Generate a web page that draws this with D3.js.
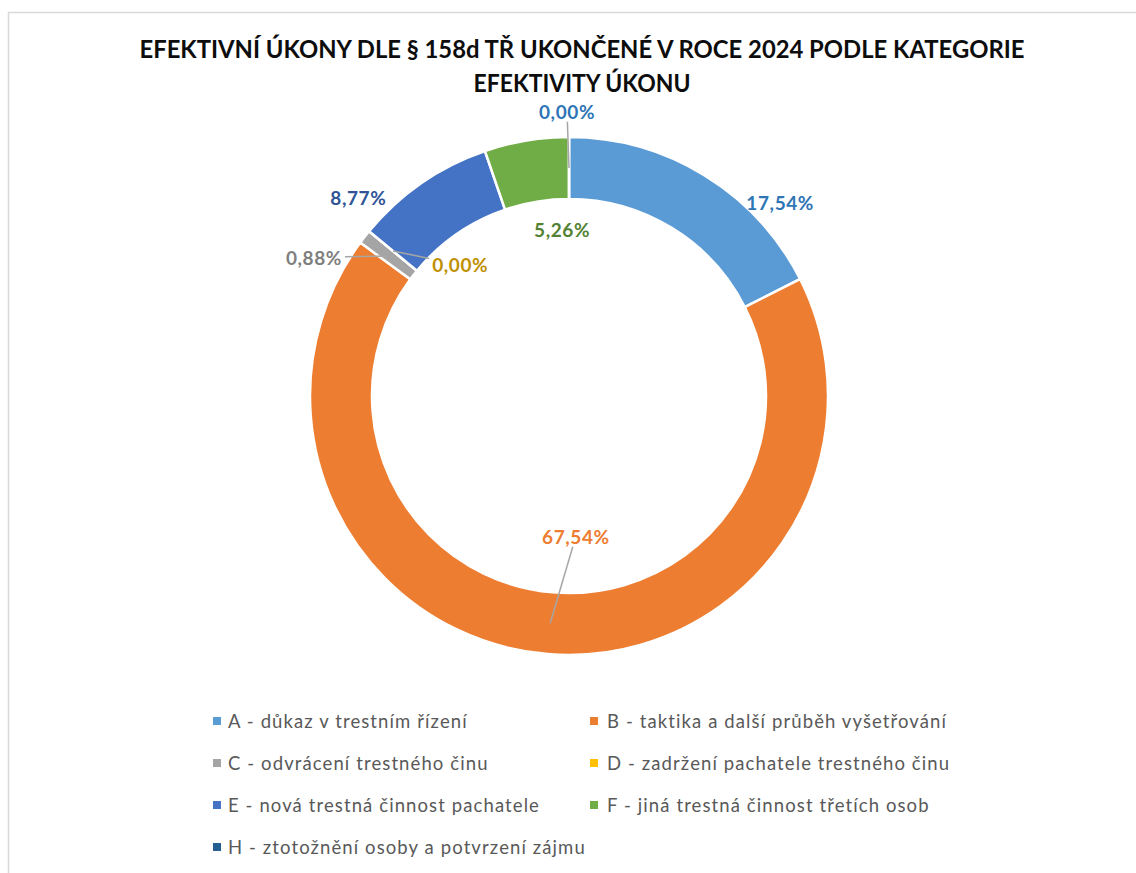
<!DOCTYPE html>
<html>
<meta charset="utf-8">
<style>
body { margin: 0; background: #fff; }
text { font-family: Lato, "Open Sans", sans-serif; }
</style>
<head>
<script src="https://d3js.org/d3.v7.min.js"></script>
</head>
<body>
<script>
// data (share of 114 acts)
var categories = ["A - důkaz v trestním řízení", "B - taktika a další průběh vyšetřování",
  "C - odvrácení trestného činu", "D - zadržení pachatele trestného činu",
  "E - nová trestná činnost pachatele", "F - jiná trestná činnost třetích osob",
  "H - ztotožnění osoby a potvrzení zájmu"];
var values = [17.54, 67.54, 0.88, 0.00, 8.77, 5.26, 0.00];
var labels = ["17,54%", "67,54%", "0,88%", "0,00%", "8,77%", "5,26%", "0,00%"];

var sliceColors = ["#5b9bd5", "#ed7d31", "#a5a5a5", "#ffc000", "#4472c4", "#70ad47", "#255e91"];
var labelColors = ["#2e75b6", "#ed7d31", "#7f7f7f", "#bf9000", "#2f5597", "#548235", "#2e75b6"];
// label placement in polar form around the donut centre: [angle deg, radius, leader?]
var labelLayout = [[47.6, 286, 0], [177.2, 141, 1], [298.4, 290, 1], [320.2, 170, 1],
  [313.2, 289, 0], [357.6, 166, 0], [-0.4, 284, 1]];

var width = 1136, height = 873,
    cx = 569, cy = 396,
    outerR = 259, innerR = 197;

var svg = d3.select("body").append("svg")
    .attr("width", width)
    .attr("height", height);

// chart frame
svg.append("rect")
    .attr("x", 8.5).attr("y", 12.5)
    .attr("width", 1300).attr("height", 1000)
    .attr("fill", "none")
    .attr("stroke", "#d9d9d9")
    .attr("stroke-width", 1.5);

// title
var titleLines = ["EFEKTIVNÍ ÚKONY DLE § 158d TŘ UKONČENÉ V ROCE 2024 PODLE KATEGORIE", "EFEKTIVITY ÚKONU"];
var titleWidths = [885, 217];
svg.selectAll("text.title")
    .data(titleLines)
  .enter().append("text")
    .attr("class", "title")
    .attr("x", 582)
    .attr("y", function(d, i) { return 58 + i * 34; })
    .attr("text-anchor", "middle")
    .style("font-size", "25px")
    .style("font-weight", "bold")
    .attr("fill", "#0d0d0d")
    .attr("textLength", function(d, i) { return titleWidths[i]; })
    .attr("lengthAdjust", "spacingAndGlyphs")
    .text(function(d) { return d; });

var pie = d3.pie()
    .sort(null)
    .value(function(d) { return d; });

var arc = d3.arc()
    .outerRadius(outerR)
    .innerRadius(innerR);

var g = svg.append("g")
    .attr("transform", "translate(" + cx + "," + cy + ")");

var arcs = pie(values);

g.selectAll("path")
    .data(arcs)
  .enter().append("path")
    .attr("d", arc)
    .attr("fill", function(d, i) { return sliceColors[i]; })
    .attr("stroke", "#fff")
    .attr("stroke-width", 2.5);

function polar(angDeg, r) {
  var a = angDeg * Math.PI / 180;
  return [r * Math.sin(a), -r * Math.cos(a)];
}

// data labels
var lab = g.selectAll("text.lbl")
    .data(arcs)
  .enter().append("text")
    .attr("class", "lbl")
    .attr("x", function(d, i) { return polar(labelLayout[i][0], labelLayout[i][1])[0]; })
    .attr("y", function(d, i) { return polar(labelLayout[i][0], labelLayout[i][1])[1]; })
    .attr("dy", "0.36em")
    .attr("text-anchor", "middle")
    .style("font-size", "19px")
    .style("font-weight", "bold")
    .style("letter-spacing", "0.6px")
    .attr("fill", function(d, i) { return labelColors[i]; })
    .text(function(d, i) { return labels[i]; });

// leader lines from label box edge to slice centroid
lab.each(function(d, i) {
  if (!labelLayout[i][2]) return;
  var bb = this.getBBox();
  var lx = bb.x + bb.width / 2, ly = bb.y + bb.height / 2;
  var c = arc.centroid(d);
  var dx = c[0] - lx, dy = c[1] - ly;
  var hw = bb.width / 2 + 3, hh = bb.height / 2 - 1;
  var t = Math.min(Math.abs(dx) > 0 ? hw / Math.abs(dx) : 1e9, Math.abs(dy) > 0 ? hh / Math.abs(dy) : 1e9);
  g.append("line")
      .attr("x1", lx + dx * t).attr("y1", ly + dy * t)
      .attr("x2", c[0]).attr("y2", c[1])
      .attr("stroke", "#a6a6a6")
      .attr("stroke-width", 1.5);
});

// legend, two columns
var legend = svg.selectAll("g.legend")
    .data(categories)
  .enter().append("g")
    .attr("class", "legend")
    .attr("transform", function(d, i) {
      return "translate(" + (i % 2 ? 590 : 213) + "," + (721 + Math.floor(i / 2) * 42) + ")";
    });

legend.append("rect")
    .attr("x", 0).attr("y", -4)
    .attr("width", 8).attr("height", 8)
    .attr("fill", function(d, i) { return sliceColors[i]; });

legend.append("text")
    .attr("x", function(d, i) { return i % 2 ? 17 : 15; })
    .attr("y", 0)
    .attr("dy", "0.36em")
    .style("font-size", "18.5px")
    .style("letter-spacing", "1.1px")
    .attr("fill", "#595959")
    .text(function(d) { return d; });
</script>
</body>
</html>
